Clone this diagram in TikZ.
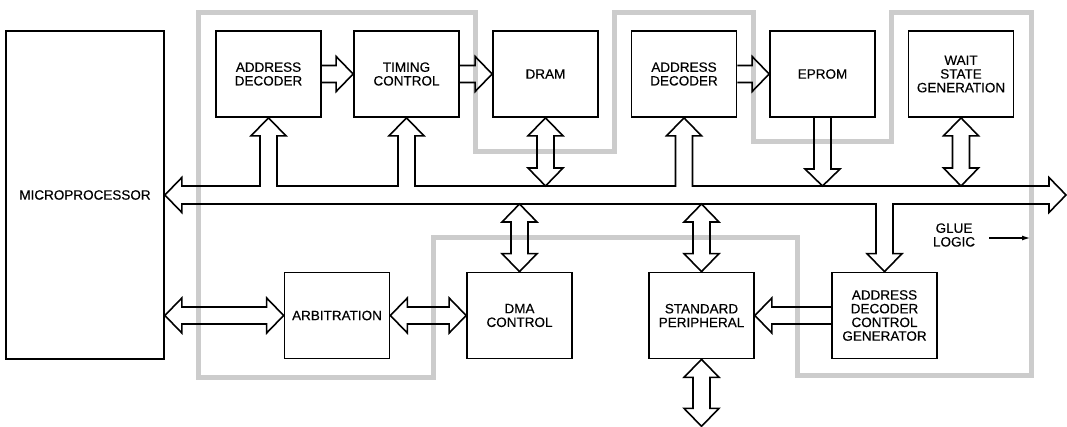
\documentclass[tikz,border=0pt]{standalone}
\usepackage{fontspec}
\setmainfont{Liberation Sans}[FakeBold=0.3]
\usetikzlibrary{calc,arrows.meta}
\tikzset{
  blk/.style={draw, line width=1.7pt, minimum width=105pt, minimum height=86pt, inner sep=0pt, align=center, font=\fontsize{13.5}{13.7}\selectfont},
  fat/.style={draw, line width=1.6pt, line join=miter, miter limit=10},
  gluezone/.style={draw=black!20, line width=5pt, line join=miter},
  lbl/.style={align=center, inner sep=0pt, font=\fontsize{13.5}{13.7}\selectfont},
}
% vertical double arrow: #1 top tip, #2 bottom tip
\newcommand\myVD[2]{\draw[fat] (#1) -- ($(#1)+(17.5,18)$) -- ($(#1)+(8.5,18)$) -- ($(#2)+(8.5,-18)$) -- ($(#2)+(17.5,-18)$) -- (#2) -- ($(#2)+(-17.5,-18)$) -- ($(#2)+(-8.5,-18)$) -- ($(#1)+(-8.5,18)$) -- ($(#1)+(-17.5,18)$) -- cycle;}
% horizontal single arrow to the right: #1 start, #2 tip
\newcommand\myHS[2]{\draw[fat] ($(#1)+(0,-8.5)$) -- ($(#2)+(-17,-8.5)$) -- ($(#2)+(-17,-17.5)$) -- (#2) -- ($(#2)+(-17,17.5)$) -- ($(#2)+(-17,8.5)$) -- ($(#1)+(0,8.5)$);}
% horizontal double arrow: #1 left tip, #2 right tip
\newcommand\myHD[2]{\draw[fat] (#1) -- ($(#1)+(17,-17.5)$) -- ($(#1)+(17,-8.5)$) -- ($(#2)+(-17,-8.5)$) -- ($(#2)+(-17,-17.5)$) -- (#2) -- ($(#2)+(-17,17.5)$) -- ($(#2)+(-17,8.5)$) -- ($(#1)+(17,8.5)$) -- ($(#1)+(17,17.5)$) -- cycle;}
\begin{document}
\begin{tikzpicture}[x=1pt,y=-1pt]
\useasboundingbox (0,0) rectangle (1067,427);

% glue logic zone (stippled outline)
\draw[gluezone] (198,13) -- (475,13) -- (475,152) -- (614,152) -- (614,13) -- (753,13) -- (753,142) -- (891,142) -- (891,13) -- (1031,13) -- (1031,375) -- (797,375) -- (797,238) -- (433,238) -- (433,377) -- (198,377) -- cycle;

% blocks
\node[blk, minimum width=158pt, minimum height=328pt] (micro) at (85,195) {MICROPROCESSOR};
\node[blk] (ad1) at (268.5,74) {ADDRESS\\DECODER};
\node[blk] (tc) at (406.5,74) {TIMING\\CONTROL};
\node[blk] (dram) at (545.5,74) {DRAM};
\node[blk] (ad2) at (684,74) {ADDRESS\\DECODER};
\node[blk] (eprom) at (822.5,74) {EPROM};
\node[blk] (wait) at (961,74) {WAIT\\STATE\\GENERATION};
\node[blk] (arb) at (337,315.5) {ARBITRATION};
\node[blk] (dma) at (519.5,315.5) {DMA\\CONTROL};
\node[blk] (sp) at (701.5,315.5) {STANDARD\\PERIPHERAL};
\node[blk] (adcg) at (884.5,315.5) {ADDRESS\\DECODER\\CONTROL\\GENERATOR};
\node[lbl] (glue) at (954,235) {GLUE\\LOGIC};

\coordinate (bt) at (0,186);
\coordinate (bb) at (0,204);
\coordinate (br) at (1066,195);
\coordinate (ge) at (1030,238);
\coordinate (spout) at ($(sp.south)+(0,67)$);

% main bus
\draw[fat] (micro.east) -- ($(micro.east)+(17,-17.5)$) -- ($(micro.east)+(17,-9)$)
  -- ($(ad1.south |- bt)+(-8.5,0)$) -- ($(ad1.south)+(-8.5,18)$) -- ($(ad1.south)+(-17.5,18)$) -- (ad1.south) -- ($(ad1.south)+(17.5,18)$) -- ($(ad1.south)+(8.5,18)$) -- ($(ad1.south |- bt)+(8.5,0)$)
  -- ($(tc.south |- bt)+(-8.5,0)$) -- ($(tc.south)+(-8.5,18)$) -- ($(tc.south)+(-17.5,18)$) -- (tc.south) -- ($(tc.south)+(17.5,18)$) -- ($(tc.south)+(8.5,18)$) -- ($(tc.south |- bt)+(8.5,0)$)
  -- ($(ad2.south |- bt)+(-8.5,0)$) -- ($(ad2.south)+(-8.5,18)$) -- ($(ad2.south)+(-17.5,18)$) -- (ad2.south) -- ($(ad2.south)+(17.5,18)$) -- ($(ad2.south)+(8.5,18)$) -- ($(ad2.south |- bt)+(8.5,0)$)
  -- ($(br)+(-17,-9)$) -- ($(br)+(-17,-17.5)$) -- (br) -- ($(br)+(-17,17.5)$) -- ($(br)+(-17,9)$)
  -- ($(adcg.north |- bb)+(8.5,0)$) -- ($(adcg.north)+(8.5,-18)$) -- ($(adcg.north)+(17.5,-18)$) -- (adcg.north) -- ($(adcg.north)+(-17.5,-18)$) -- ($(adcg.north)+(-8.5,-18)$) -- ($(adcg.north |- bb)+(-8.5,0)$)
  -- ($(micro.east)+(17,9)$) -- ($(micro.east)+(17,17.5)$) -- cycle;

% top row connectors
\myHS{ad1.east}{tc.west}
\myHS{tc.east}{dram.west}
\myHS{ad2.east}{eprom.west}
\myVD{dram.south}{dram.south |- bt}
\myVD{wait.south}{wait.south |- bt}
\draw[fat] ($(eprom.south)+(-8.5,0)$) -- ($(eprom.south |- bt)+(-8.5,-17)$) -- ($(eprom.south |- bt)+(-17.5,-17)$) -- (eprom.south |- bt) -- ($(eprom.south |- bt)+(17.5,-17)$) -- ($(eprom.south |- bt)+(8.5,-17)$) -- ($(eprom.south)+(8.5,0)$);

% bottom row connectors
\myVD{dma.north |- bb}{dma.north}
\myVD{sp.north |- bb}{sp.north}
\myVD{sp.south}{spout}
\myHD{arb.west -| micro.east}{arb.west}
\myHD{arb.east}{dma.west}
\draw[fat] ($(adcg.west)+(0,-8.5)$) -- ($(sp.east)+(17,-8.5)$) -- ($(sp.east)+(17,-17.5)$) -- (sp.east) -- ($(sp.east)+(17,17.5)$) -- ($(sp.east)+(17,8.5)$) -- ($(adcg.west)+(0,8.5)$);

% glue logic pointer
\draw[line width=1.2pt, -{Latex[length=8pt,width=5pt]}] ($(glue.east)+(14,3)$) -- (ge);
\end{tikzpicture}
\end{document}
